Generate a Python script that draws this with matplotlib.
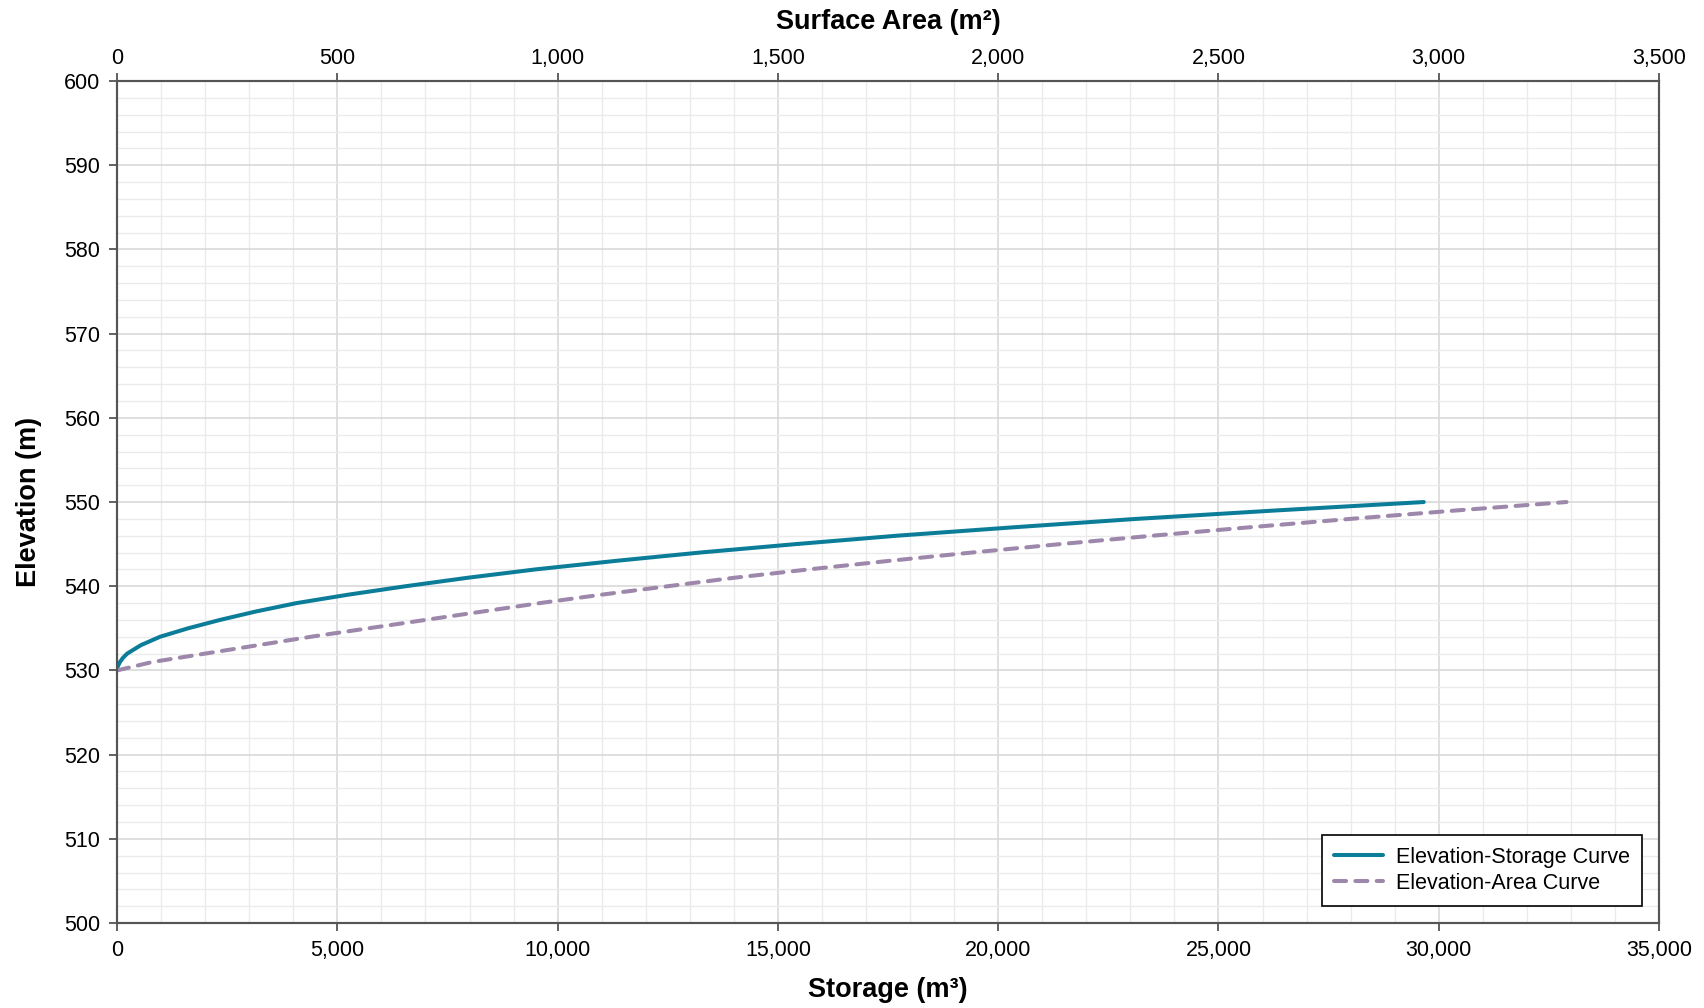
import matplotlib
matplotlib.use("Agg")
import matplotlib.pyplot as plt
from matplotlib.ticker import MultipleLocator, StrMethodFormatter

plt.rcParams['font.family'] = ['Liberation Sans', 'DejaVu Sans']

# Elevation-storage curve
storage_elev = [530, 530.25, 530.5, 531, 531.5, 532, 533, 534, 535, 536, 537, 538, 539, 540,
                541, 542, 543, 544, 545, 546, 547, 548, 549, 550]
storage_m3 = [0, 5, 18, 65, 135, 230, 540, 976, 1610, 2338, 3150, 4078, 5250, 6550,
              7950, 9500, 11300, 13232, 15400, 17700, 20350, 23143, 26300, 29660]

# Elevation-area curve
area_elev = [530, 531, 532, 533, 534, 535, 536, 537, 538, 539, 540,
             541, 542, 543, 544, 545, 546, 547, 548, 549, 550]
area_m2 = [0, 80, 200, 320, 440, 570, 700, 830, 960, 1100, 1250,
           1400, 1570, 1750, 1940, 2140, 2350, 2570, 2800, 3040, 3290]

storage_color = '#0b7d99'
area_color = '#9d88ab'
axis_color = '#555555'

fig = plt.figure(figsize=(17.04, 10.08), dpi=100)
ax = fig.add_axes([0.0687, 0.0843, 0.9049, 0.8353])

ax.set_xlim(0, 35000)
ax.set_ylim(500, 600)
ax.xaxis.set_major_locator(MultipleLocator(5000))
ax.xaxis.set_minor_locator(MultipleLocator(1000))
ax.yaxis.set_major_locator(MultipleLocator(10))
ax.yaxis.set_minor_locator(MultipleLocator(2))
ax.xaxis.set_major_formatter(StrMethodFormatter('{x:,.0f}'))
ax.grid(which='major', color='#d6d6d6', linewidth=1.1)
ax.grid(which='minor', color='#ebebeb', linewidth=1.0)
ax.set_axisbelow(True)

l1, = ax.plot(storage_m3, storage_elev, color=storage_color, linewidth=2.9,
              solid_capstyle='round', solid_joinstyle='round',
              label='Elevation-Storage Curve')

ax2 = ax.twiny()
ax2.set_xlim(0, 3500)
ax2.xaxis.set_major_locator(MultipleLocator(500))
ax2.xaxis.set_major_formatter(StrMethodFormatter('{x:,.0f}'))
l2, = ax2.plot(area_m2, area_elev, color=area_color, linewidth=2.9,
               dashes=(3.0, 2.3), dash_capstyle='round',
               label='Elevation-Area Curve')

for a in (ax, ax2):
    for s in a.spines.values():
        s.set_color(axis_color)
        s.set_linewidth(1.5)
    a.tick_params(which='major', length=6, width=1.3, color=axis_color,
                  labelsize=15.5, labelcolor='black', pad=6)
    a.tick_params(which='minor', length=0)
ax2.tick_params(which='major', pad=2.5)

ax.set_xlabel('Storage (m³)', fontsize=19.5, fontweight='bold', labelpad=12)
ax.set_ylabel('Elevation (m)', fontsize=19.5, fontweight='bold', labelpad=16)
ax2.set_xlabel('Surface Area (m²)', fontsize=19.5, fontweight='bold', labelpad=14)

leg = ax2.legend(handles=[l1, l2], loc='lower right', fontsize=15.5,
                 frameon=True, fancybox=False, edgecolor='black',
                 handlelength=2.3, handletextpad=0.6, labelspacing=0.25,
                 borderpad=0.55, borderaxespad=0.8)
leg.get_frame().set_linewidth(1.2)
leg.get_frame().set_alpha(1)

fig.savefig('out.png', dpi=100)
